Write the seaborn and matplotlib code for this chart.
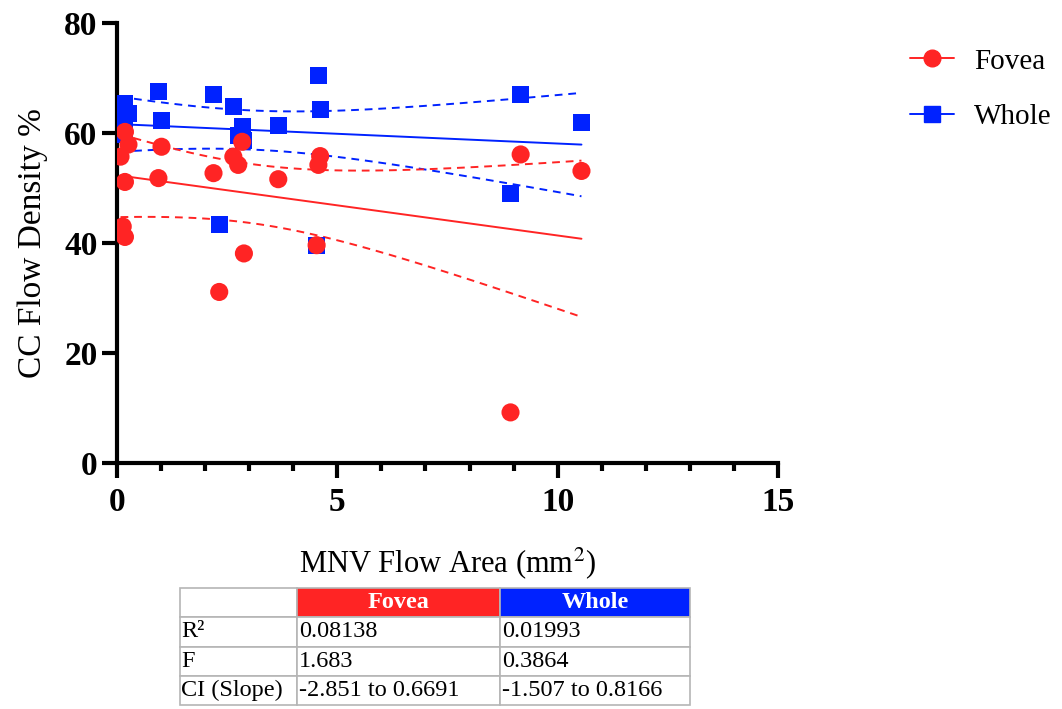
import numpy as np
import pandas as pd
import matplotlib
matplotlib.use("Agg")
import matplotlib.pyplot as plt
from matplotlib.lines import Line2D
import seaborn as sns

# --- data ---
fovea_x = [0.18, 0.26, 0.08, 0.18, 1.01, 0.94, 2.19, 2.64, 2.75, 2.84, 3.66,
           0.13, 0.18, 2.88, 4.61, 4.57, 4.53, 2.32, 9.16, 10.54, 8.93]
fovea_y = [60.2, 57.9, 55.7, 51.1, 57.5, 51.8, 52.7, 55.7, 54.2, 58.4, 51.6,
           43.0, 41.1, 38.1, 55.8, 54.2, 39.6, 31.1, 56.1, 53.1, 9.2]
whole_x = [0.18, 0.26, 0.18, 0.13, 0.08, 0.18, 0.94, 2.19, 2.64, 1.01, 2.84,
           2.75, 2.88, 3.66, 2.32, 4.57, 4.61, 4.53, 9.16, 10.54, 8.93]
whole_y = [65.3, 63.5, 62.5, 61.8, 59.8, 60.5, 67.5, 67.0, 64.9, 62.2, 61.1,
           59.6, 58.7, 61.3, 43.4, 70.5, 64.2, 39.6, 67.0, 61.9, 49.0]

table_rows = ["R\u00b2", "F", "CI (Slope)"]
table_cols = ["Fovea", "Whole"]
fovea_stats = ["0.08138", "1.683", "-2.851 to 0.6691"]
whole_stats = ["0.01993", "0.3864", "-1.507 to 0.8166"]

RED = "#ff2424"
BLUE = "#0022ff"

sns.set_style("white")
plt.rcParams["font.family"] = ["Liberation Serif", "DejaVu Serif"]
plt.rcParams["mathtext.fontset"] = "stix"
plt.rcParams["text.color"] = "black"
plt.rcParams["axes.labelcolor"] = "black"
plt.rcParams["xtick.color"] = "black"
plt.rcParams["ytick.color"] = "black"

fig = plt.figure(figsize=(10.62, 7.09), dpi=100)
ax = fig.add_axes([117 / 1062, 1 - 463 / 709, 661 / 1062, 440 / 709])

df_f = pd.DataFrame({"x": fovea_x, "y": fovea_y})
df_w = pd.DataFrame({"x": whole_x, "y": whole_y})


def ci_band(df, color):
    # 95% confidence band of the fitted line, drawn dashed
    x = df["x"].values
    y = df["y"].values
    n = len(x)
    b, a = np.polyfit(x, y, 1)
    resid = y - (a + b * x)
    s = np.sqrt(np.sum(resid ** 2) / (n - 2))
    xg = np.linspace(x.min(), x.max(), 100)
    se = s * np.sqrt(1 / n + (xg - x.mean()) ** 2 / np.sum((x - x.mean()) ** 2))
    t = 2.093
    yhat = a + b * xg
    for sign in (-1, 1):
        ax.plot(xg, yhat + sign * t * se, color=color, lw=1.4, ls=(0, (4, 3)), zorder=2)


# blue first so red circles sit on top
sns.regplot(data=df_w, x="x", y="y", ax=ax, ci=None, marker="s", color=BLUE,
            scatter_kws=dict(s=150, alpha=1, edgecolors="none", zorder=3),
            line_kws=dict(lw=1.4, zorder=2))
ci_band(df_w, BLUE)
sns.regplot(data=df_f, x="x", y="y", ax=ax, ci=None, marker="o", color=RED,
            scatter_kws=dict(s=170, alpha=1, edgecolors="none", zorder=4),
            line_kws=dict(lw=1.4, zorder=2))
ci_band(df_f, RED)

ax.set_xlim(0, 15)
ax.set_ylim(0, 80)
ax.set_xticks([0, 5, 10, 15])
ax.set_xticks(np.arange(0, 16, 1), minor=True)
ax.set_yticks([0, 20, 40, 60, 80])
sns.despine(ax=ax)
for sp in ["left", "bottom"]:
    ax.spines[sp].set_linewidth(3)
    ax.spines[sp].set_color("black")
ax.tick_params(axis="both", which="major", length=11, width=3, color="black",
               labelcolor="black", labelsize=24, direction="out",
               bottom=True, left=True, pad=3)
ax.tick_params(axis="x", which="major", pad=6)
ax.tick_params(axis="x", which="minor", length=6, width=3, color="black", bottom=True)
for lbl in ax.get_xticklabels() + ax.get_yticklabels():
    lbl.set_fontweight("bold")
ax.set_xlabel("MNV Flow Area (mm$^2$)", fontsize=22, labelpad=20, color="black")
ax.set_ylabel("CC Flow Density %", fontsize=24, labelpad=12, color="black")

handles = [
    Line2D([], [], color=RED, marker="o", markersize=12, lw=1.4),
    Line2D([], [], color=BLUE, marker="s", markersize=11, lw=1.4),
]
fig.legend(handles, ["Fovea", "Whole"], loc="upper left",
           bbox_to_anchor=(884 / 1062, 1 - 22 / 709), frameon=False,
           fontsize=21, handlelength=1.5, labelspacing=1.0, handletextpad=0.7,
           labelcolor="black")

# --- stats table under the plot ---
tax = fig.add_axes([180 / 1062, 1 - 705 / 709, 510 / 1062, 117 / 709])
tax.axis("off")
cell_text = [[""] + table_cols] + [[r, f, w] for r, f, w in zip(table_rows, fovea_stats, whole_stats)]
tbl = tax.table(cellText=cell_text, cellLoc="left", bbox=[0, 0, 1, 1],
                colWidths=[117 / 510, 203 / 510, 190 / 510])
tbl.auto_set_font_size(False)
for (r, c), cell in tbl.get_celld().items():
    cell.set_edgecolor("#b5b5b5")
    cell.set_linewidth(1.2)
    cell.get_text().set_fontsize(17.5)
    cell.get_text().set_color("black")
    cell.PAD = 0.01
    if r == 0:
        if c == 1:
            cell.set_facecolor(RED)
        elif c == 2:
            cell.set_facecolor(BLUE)
        cell.get_text().set_color("white")
        cell.get_text().set_fontweight("bold")
        cell.get_text().set_ha("center")
        cell._loc = "center"

fig.savefig("out.png", dpi=100)
